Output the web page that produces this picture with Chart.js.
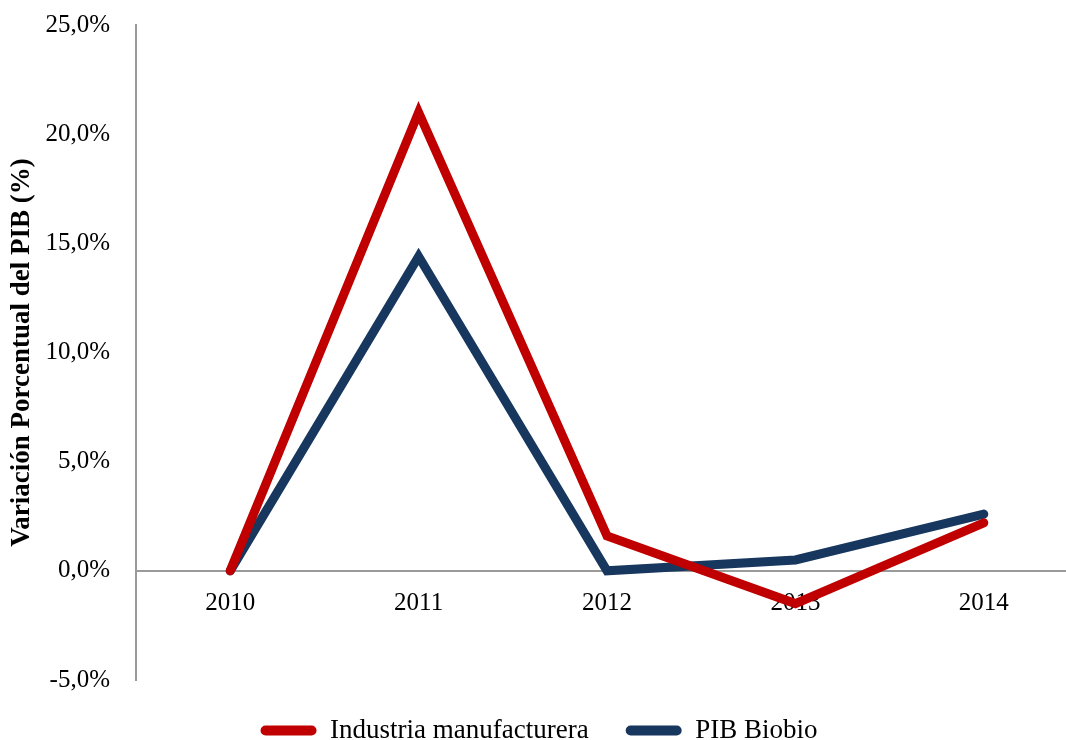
<!DOCTYPE html>
<html lang="es">
<head>
  <meta charset="UTF-8">
  <title>Variación Porcentual del PIB</title>
  <script src="https://cdn.jsdelivr.net/npm/chart.js"></script>
  <style>
    html, body { margin: 0; padding: 0; background: #fff; overflow: hidden; }
    canvas { display: block; }
  </style>
</head>
<body>
<canvas id="pibChart" width="1078" height="740"></canvas>
<script>
  const years = ['2010', '2011', '2012', '2013', '2014'];
  const industria = [0.0, 21.0, 1.6, -1.5, 2.2];
  const pibBiobio = [0.0, 14.4, 0.0, 0.5, 2.6];
  const seriesNames = ['Industria manufacturera', 'PIB Biobio'];
  const seriesColors = ['#C00000', '#17375E'];

  const serif = "'Liberation Serif', 'Times New Roman', serif";
  Chart.defaults.font.family = serif;
  Chart.defaults.color = '#000';

  const ctx = document.getElementById('pibChart').getContext('2d');

  // the axis runs off the right edge of the picture, so the canvas is a bit wider than the window
  new Chart(ctx, {
    type: 'line',
    data: {
      labels: years,
      datasets: [industria, pibBiobio].map((vals, i) => ({
        label: seriesNames[i],
        data: vals,
        borderColor: seriesColors[i],
        backgroundColor: seriesColors[i],
        borderWidth: 9,
        borderCapStyle: 'round',
        borderJoinStyle: 'miter',
        pointRadius: 0,
        tension: 0
      }))
    },
    options: {
      responsive: false,
      animation: false,
      layout: { padding: { top: 25, right: 0, bottom: -14, left: 0 } },
      plugins: {
        tooltip: { enabled: false },
        legend: {
          position: 'bottom',
          labels: {
            font: { size: 27 },
            boxWidth: 56,
            boxHeight: 10,
            padding: 37,
            useBorderRadius: true,
            borderRadius: 5,
            generateLabels: (chart) => chart.data.datasets.map((ds, i) => ({
              text: ds.label,
              fillStyle: ds.borderColor,
              strokeStyle: ds.borderColor,
              lineWidth: 0,
              borderRadius: 5,
              datasetIndex: i
            }))
          }
        }
      },
      scales: {
        x: {
          position: { y: 0 },
          offset: true,
          grid: { display: false, drawTicks: false },
          border: { display: true, color: '#9a9a9a', width: 2 },
          ticks: { font: { size: 25 }, padding: 18, maxRotation: 0 }
        },
        y: {
          min: -5,
          max: 25,
          grid: { display: false, drawTicks: false },
          border: { display: true, color: '#9a9a9a', width: 2 },
          ticks: {
            stepSize: 5,
            font: { size: 25 },
            padding: 26,
            callback: (v) => v.toFixed(1).replace('.', ',') + '%'
          },
          title: {
            display: true,
            text: 'Variación Porcentual del PIB (%)',
            font: { size: 27, weight: 'bold' },
            padding: { top: 6, bottom: 0 }
          },
          afterFit: (scale) => {
            scale.width = 136;
            scale.paddingTop = 0;
            scale.paddingBottom = 0;
          }
        }
      }
    }
  });
</script>
</body>
</html>
